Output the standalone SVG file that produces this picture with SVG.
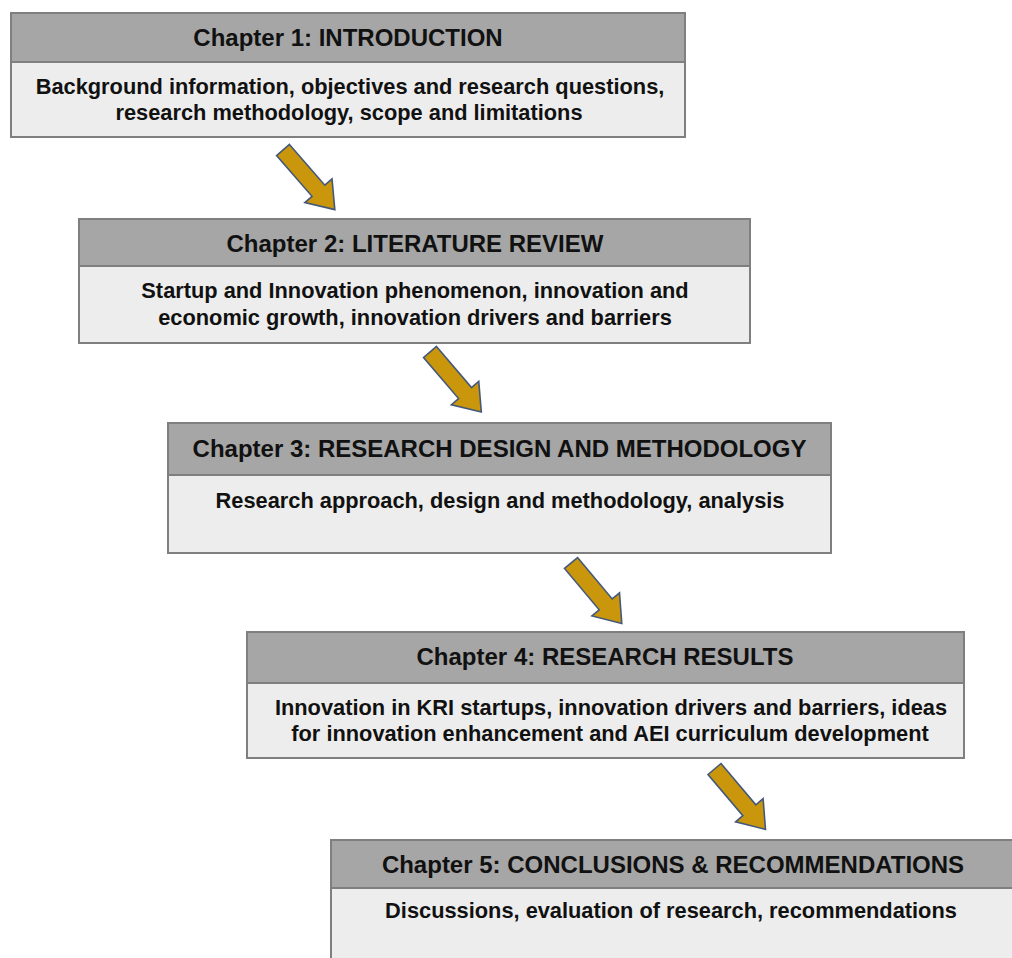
<svg xmlns="http://www.w3.org/2000/svg" width="1012" height="958" viewBox="0 0 1012 958">
<defs>
<style>
.hdr{fill:#a6a6a6;stroke:#7f7f7f;stroke-width:2}
.bdy{fill:#ededed;stroke:#7f7f7f;stroke-width:2}
.ttl{font-family:"Liberation Sans",Arial,sans-serif;font-weight:bold;font-size:24px;fill:#111;text-anchor:middle}
.txt{font-family:"Liberation Sans",Arial,sans-serif;font-weight:bold;font-size:21.8px;fill:#111;text-anchor:middle}
.arr{fill:#c9960c;stroke:#44597a;stroke-width:1.6;stroke-linejoin:miter}
</style>
<path id="arrow" d="M0,-8.5 L54,-8.5 L54,-18 L79,0 L54,18 L54,8.5 L0,8.5 Z"/>
</defs>
<rect width="1012" height="958" fill="#ffffff"/>
<g id="node1">
<rect class="bdy" x="11" y="13" width="674" height="124"/>
<rect class="hdr" x="11" y="13" width="674" height="49"/>
<text class="ttl" x="348" y="46">Chapter 1: INTRODUCTION</text>
<text class="txt" x="350" y="94">Background information, objectives and research questions,</text>
<text class="txt" x="349" y="120">research methodology, scope and limitations</text>
</g>
<g id="node2">
<rect class="bdy" x="79" y="219" width="671" height="124"/>
<rect class="hdr" x="79" y="219" width="671" height="47"/>
<text class="ttl" x="415" y="252">Chapter 2: LITERATURE REVIEW</text>
<text class="txt" x="415" y="298">Startup and Innovation phenomenon, innovation and</text>
<text class="txt" x="415" y="325">economic growth, innovation drivers and barriers</text>
</g>
<g id="node3">
<rect class="bdy" x="168" y="423" width="663" height="130"/>
<rect class="hdr" x="168" y="423" width="663" height="52"/>
<text class="ttl" x="499.5" y="457">Chapter 3: RESEARCH DESIGN AND METHODOLOGY</text>
<text class="txt" x="500" y="508">Research approach, design and methodology, analysis</text>
</g>
<g id="node4">
<rect class="bdy" x="247" y="632" width="717" height="126"/>
<rect class="hdr" x="247" y="632" width="717" height="51"/>
<text class="ttl" x="605" y="665">Chapter 4: RESEARCH RESULTS</text>
<text class="txt" x="611" y="715">Innovation in KRI startups, innovation drivers and barriers, ideas</text>
<text class="txt" x="610" y="741">for innovation enhancement and AEI curriculum development</text>
</g>
<g id="node5">
<rect class="bdy" x="331" y="840" width="700" height="140"/>
<rect class="hdr" x="331" y="840" width="700" height="48"/>
<text class="ttl" x="673" y="873">Chapter 5: CONCLUSIONS &amp; RECOMMENDATIONS</text>
<text class="txt" x="671" y="918">Discussions, evaluation of research, recommendations</text>
</g>
<g id="connectors">
<use href="#arrow" class="arr" transform="translate(283,150) rotate(49)"/>
<use href="#arrow" class="arr" transform="translate(430,352) rotate(49.5)"/>
<use href="#arrow" class="arr" transform="translate(571,563) rotate(50)"/>
<use href="#arrow" class="arr" transform="translate(714.5,769) rotate(49.8)"/>
</g>
</svg>
